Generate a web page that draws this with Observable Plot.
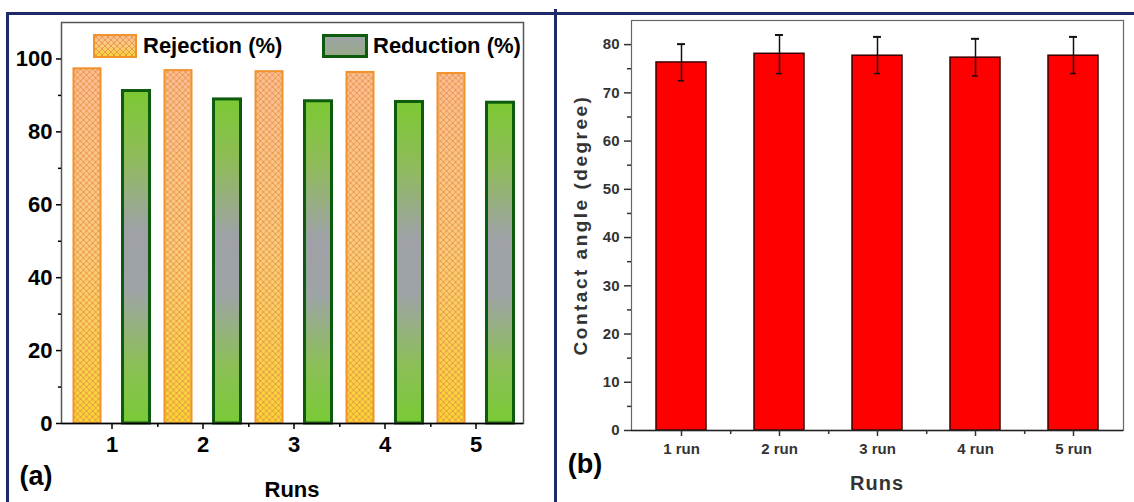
<!DOCTYPE html>
<html><head><meta charset="utf-8">
<script src="https://cdn.jsdelivr.net/npm/d3@7"></script>
<script src="https://cdn.jsdelivr.net/npm/@observablehq/plot@0.6"></script>
<style>
body{margin:0;background:#fff;}
#wrap{position:relative;width:1134px;height:502px;overflow:hidden;font-family:"Liberation Sans",Arial,sans-serif;background:#fff;}
.lbl{position:absolute;line-height:1;white-space:nowrap;transform:translate(-50%,-50%);font-weight:bold;}
.nav{position:absolute;background:#1c2a66;}
#left,#right{position:absolute;top:0;}
#left{left:0;} #right{left:555px;}
.leg{position:absolute;display:flex;align-items:center;font-size:22px;font-weight:bold;line-height:1;color:#000;}
</style></head><body>
<svg width="0" height="0" style="position:absolute">
<defs>
 <linearGradient id="gRej" x1="0" y1="0" x2="0" y2="1">
  <stop offset="0" stop-color="#fbbd92"/>
  <stop offset="0.5" stop-color="#facb7c"/>
  <stop offset="1" stop-color="#f8d530"/>
 </linearGradient>
 <linearGradient id="gRed" x1="0" y1="0" x2="0" y2="1">
  <stop offset="0" stop-color="#7cc933"/>
  <stop offset="0.2" stop-color="#8fbb5a"/>
  <stop offset="0.42" stop-color="#9ea2a6"/>
  <stop offset="0.6" stop-color="#9ea3a6"/>
  <stop offset="0.82" stop-color="#8cbf58"/>
  <stop offset="1" stop-color="#79ca36"/>
 </linearGradient>
 <linearGradient id="gRedLeg" x1="0" y1="0" x2="0" y2="1">
  <stop offset="0" stop-color="#9ea2a6"/>
  <stop offset="1" stop-color="#98aa88"/>
 </linearGradient>
 <pattern id="hatch" width="6" height="6" patternUnits="userSpaceOnUse">
  <path d="M0,0L6,6M6,0L0,6" stroke="#e8944a" stroke-width="0.9" fill="none"/>
 </pattern>
</defs>
</svg>
<div id="wrap">
 <div id="left"></div>
 <div id="right"></div>
 <div class="nav" style="left:6px;top:12px;width:1128px;height:3px;"></div>
 <div class="nav" style="left:6px;top:12px;width:3px;height:490px;"></div>
 <div class="nav" style="left:554px;top:9px;width:3px;height:493px;"></div>
 <div class="leg" style="left:93px;top:34px;">
  <svg width="44" height="24" style="margin-right:6px"><rect x="1" y="1" width="42" height="22" fill="url(#gRej)"/><rect x="1" y="1" width="42" height="22" fill="url(#hatch)" stroke="#f2922a" stroke-width="2"/></svg>
  <span>Rejection (%)</span>
 </div>
 <div class="leg" style="left:322px;top:34px;">
  <svg width="46" height="24" style="margin-right:5px"><rect x="1.5" y="1.5" width="43" height="21" fill="url(#gRedLeg)" stroke="#0d5c0d" stroke-width="3"/></svg>
  <span>Reduction (%)</span>
 </div>
 <div class="lbl" style="left:36px;top:476px;font-size:27px;">(a)</div>
 <div class="lbl" style="left:585px;top:464px;font-size:27px;">(b)</div>
 <div class="lbl" style="left:292px;top:490px;font-size:22px;">Runs</div>
 <div class="lbl" style="left:877px;top:483px;font-size:20px;letter-spacing:1px;color:#333;">Runs</div>
 <div class="lbl" style="left:580px;top:225px;font-size:19px;letter-spacing:2.5px;color:#333;transform:translate(-50%,-50%) rotate(-90deg);">Contact angle (degree)</div>
</div>
<script>
// ---- data ----
const runs = ["1", "2", "3", "4", "5"];
const rejection = [97.3, 96.8, 96.5, 96.3, 96.0];
const reduction = [91.2, 88.9, 88.4, 88.2, 88.0];
const leftMajorTicks = [0, 20, 40, 60, 80, 100];
const leftMinorTicks = [10, 30, 50, 70, 90];

const runLabels = ["1 run", "2 run", "3 run", "4 run", "5 run"];
const contactAngle = [76.3, 78.1, 77.7, 77.3, 77.7];
const angleLow = [72.5, 74.0, 74.0, 73.5, 74.0];
const angleHigh = [80.1, 82.0, 81.6, 81.2, 81.6];
const rightMajorTicks = [0, 10, 20, 30, 40, 50, 60, 70, 80];
const rightMinorTicks = [5, 15, 25, 35, 45, 55, 65, 75];

// ---- left chart ----
const leftRows = runs.map((r, i) => ({run: r, rej: rejection[i], red: reduction[i]}));
const lRange = [65, 523];
const lStep = (lRange[1] - lRange[0]) / runs.length;
const left = Plot.plot({
  width: 555, height: 502,
  marginLeft: 61, marginRight: 32, marginTop: 22, marginBottom: 79,
  style: {background: "transparent", color: "#000", fontFamily: "'Liberation Sans', Arial, sans-serif"},
  x: {type: "band", domain: runs, range: lRange, paddingInner: 0.7, paddingOuter: 0.35, label: null},
  y: {domain: [0, 110], label: null},
  marks: [
    Plot.barY(leftRows, {x: "run", y: "rej", dx: -24.5, fill: "url(#gRej)"}),
    Plot.barY(leftRows, {x: "run", y: "rej", dx: -24.5, fill: "url(#hatch)", stroke: "#f2922a", strokeWidth: 2}),
    Plot.barY(leftRows, {x: "run", y: "red", dx: 24.5, fill: "url(#gRed)", stroke: "#0d5c0d", strokeWidth: 3}),
    Plot.frame({stroke: "#555", strokeWidth: 1.5}),
    Plot.ruleY([0], {stroke: "#000", strokeWidth: 1.5}),
    Plot.axisY({ticks: leftMajorTicks, tickSize: 5, tickPadding: 4, fontSize: 22, fontWeight: "bold", label: null, strokeWidth: 1.5}),
    Plot.axisY({ticks: leftMinorTicks, tickSize: 3, tickFormat: () => "", label: null, strokeWidth: 1.5}),
    Plot.axisX({tickSize: 6, tickPadding: 7, fontSize: 22, fontWeight: "bold", label: null, strokeWidth: 1.5}),
    Plot.axisX({ticks: runs.slice(0, -1), tickSize: 4, tickFormat: () => "", label: null, dx: lStep / 2, strokeWidth: 1.5})
  ]
});
document.getElementById("left").appendChild(left);

// ---- right chart ----
const rightRows = runLabels.map((r, i) => ({run: r, v: contactAngle[i], lo: angleLow[i], hi: angleHigh[i]}));
const rRange = [76, 568];
const rStep = (rRange[1] - rRange[0]) / runLabels.length;
const right = Plot.plot({
  width: 579, height: 502,
  marginLeft: 76, marginRight: 11, marginTop: 20, marginBottom: 72,
  style: {background: "transparent", color: "#333", fontFamily: "'Liberation Sans', Arial, sans-serif"},
  x: {type: "band", domain: runLabels, range: rRange, paddingInner: 0.49, paddingOuter: 0.245, label: null},
  y: {domain: [0, 85], label: null},
  marks: [
    Plot.barY(rightRows, {x: "run", y: "v", fill: "#ff0000", stroke: "#3a0000", strokeWidth: 1.5}),
    Plot.ruleX(rightRows, {x: "run", y1: "lo", y2: "hi", stroke: "#111", strokeWidth: 1.5}),
    Plot.tickY(rightRows, {x: "run", y: "hi", insetLeft: 21, insetRight: 21, stroke: "#111", strokeWidth: 2}),
    Plot.tickY(rightRows, {x: "run", y: "lo", insetLeft: 22, insetRight: 22, stroke: "#111", strokeWidth: 1.5}),
    Plot.frame({stroke: "#666", strokeWidth: 1.2}),
    Plot.ruleY([0], {stroke: "#222", strokeWidth: 1.5}),
    Plot.axisY({ticks: rightMajorTicks, tickSize: 7, tickPadding: 5, fontSize: 15, fontWeight: "bold", label: null, strokeWidth: 1.5}),
    Plot.axisY({ticks: rightMinorTicks, tickSize: 4, tickFormat: () => "", label: null, strokeWidth: 1.5}),
    Plot.axisX({tickSize: 6, tickPadding: 7, fontSize: 15, fontWeight: "bold", label: null, strokeWidth: 1.5}),
    Plot.axisX({ticks: runLabels.slice(0, -1), tickSize: 4, tickFormat: () => "", label: null, dx: rStep / 2, strokeWidth: 1.5})
  ]
});
document.getElementById("right").appendChild(right);
</script>
</body></html>
